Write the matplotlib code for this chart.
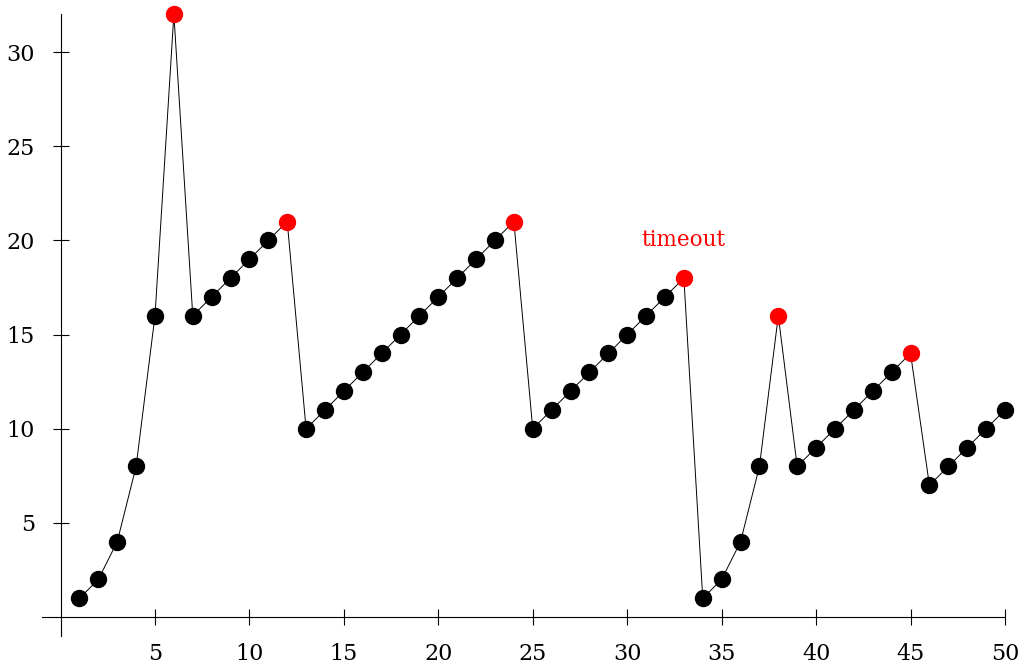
import matplotlib
matplotlib.use("Agg")
import matplotlib.pyplot as plt

# congestion window per transmission round
rounds = list(range(1, 51))
cwnd = [1, 2, 4, 8, 16, 32, 16, 17, 18, 19, 20, 21,
        10, 11, 12, 13, 14, 15, 16, 17, 18, 19, 20, 21,
        10, 11, 12, 13, 14, 15, 16, 17, 18,
        1, 2, 4, 8, 16, 8, 9, 10, 11, 12, 13, 14,
        7, 8, 9, 10, 11]
loss_rounds = [6, 12, 24, 33, 38, 45]
x_ticks = [5, 10, 15, 20, 25, 30, 35, 40, 45, 50]
y_ticks = [5, 10, 15, 20, 25, 30]
note_text = "timeout"
note_pos = (33, 20)

plt.rcParams["font.family"] = ["DejaVu Serif"]

fig = plt.figure(figsize=(10.21, 6.67), dpi=100)
ax = fig.add_axes([0.0408, 0.0465, 0.9435, 0.932])

ax.plot(rounds, cwnd, color="black", linewidth=0.7, zorder=2, clip_on=False)
black_x = [r for r in rounds if r not in loss_rounds]
black_y = [cwnd[r - 1] for r in black_x]
red_y = [cwnd[r - 1] for r in loss_rounds]
ax.plot(black_x, black_y, "o", color="black", markersize=11.5, zorder=3,
        clip_on=False)
ax.plot(loss_rounds, red_y, "o", color="red", markersize=11.5, zorder=3,
        clip_on=False)

ax.text(note_pos[0], note_pos[1], note_text, color="red", fontsize=15.5,
        ha="center", va="center")

ax.set_xlim(-1, 50.0)
ax.set_ylim(-1, 32.0)
for side in ("top", "right"):
    ax.spines[side].set_visible(False)
ax.spines["left"].set_position(("data", 0))
ax.spines["bottom"].set_position(("data", 0))
for side in ("left", "bottom"):
    ax.spines[side].set_linewidth(0.8)

ax.set_xticks(x_ticks)
ax.set_yticks(y_ticks)
ax.tick_params(direction="inout", length=11, width=0.8, labelsize=16)
ax.tick_params(axis="x", pad=13)
ax.tick_params(axis="y", pad=13)
ax.patch.set_visible(False)

fig.savefig("out.png", dpi=100)
